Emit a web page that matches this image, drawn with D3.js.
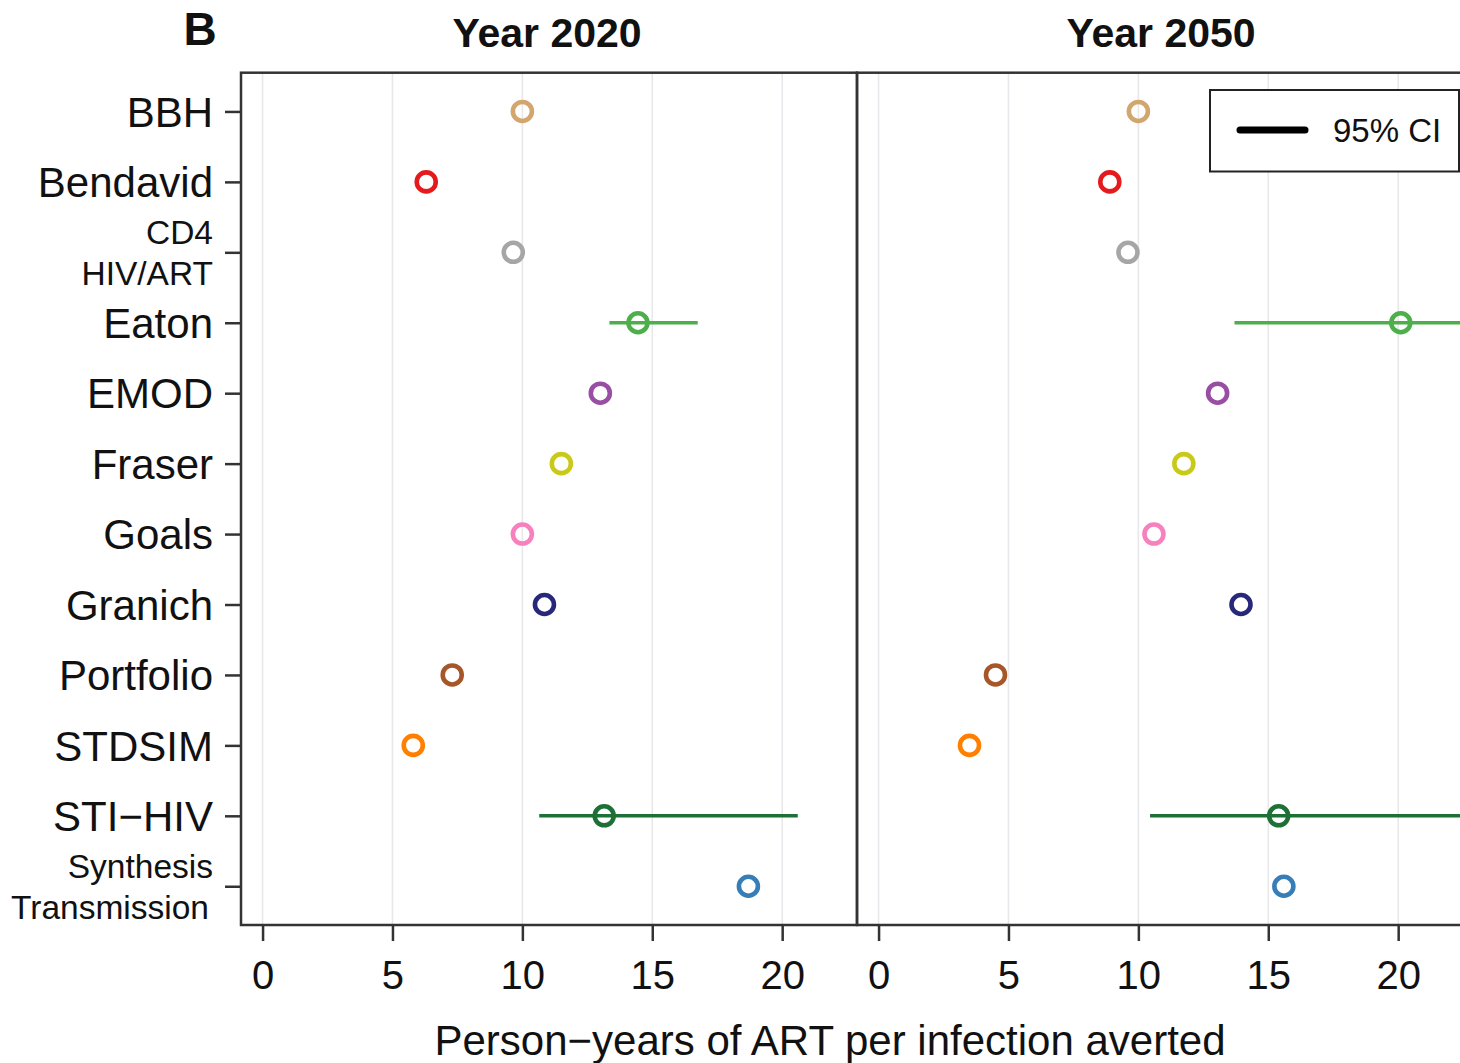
<!DOCTYPE html>
<html>
<head>
<meta charset="utf-8">
<script src="https://cdn.jsdelivr.net/npm/d3@7"></script>
<style>
  html, body { margin: 0; padding: 0; background: #fff; }
  svg { display: block; font-family: "Liberation Sans", Arial, Helvetica, sans-serif; }
</style>
</head>
<body>
<svg id="chart" width="1460" height="1063"></svg>
<script>
// Models (y categories); "\n" splits a label over two lines
const models = ["BBH", "Bendavid", "CD4\nHIV/ART", "Eaton", "EMOD", "Fraser", "Goals",
                "Granich", "Portfolio", "STDSIM", "STI\u2212HIV", "Synthesis\nTransmission"];
const modelColors = ["#d2a66c", "#e41a1c", "#a6a6a6", "#4daf4a", "#984ea3", "#c9c91a",
                     "#f781bf", "#27287a", "#a65628", "#ff7f00", "#1d7036", "#377eb8"];

// Person-years of ART per infection averted, point estimates
const est2020 = [10.0, 6.3, 9.65, 14.45, 13.0, 11.5, 10.0, 10.85, 7.3, 5.8, 13.15, 18.7];
const est2050 = [10.0, 8.9, 9.6, 20.1, 13.05, 11.75, 10.6, 13.95, 4.5, 3.5, 15.4, 15.6];
// 95% confidence intervals (only where reported)
const lo2020 = [null, null, null, 13.35, null, null, null, null, null, null, 10.65, null];
const hi2020 = [null, null, null, 16.75, null, null, null, null, null, null, 20.6, null];
const lo2050 = [null, null, null, 13.7, null, null, null, null, null, null, 10.45, null];
const hi2050 = [null, null, null, 25.0, null, null, null, null, null, null, 26.0, null];

const panelTitles = ["Year 2020", "Year 2050"];
const xTicks = [0, 5, 10, 15, 20];
const xTitle = "Person\u2212years of ART per infection averted";
const legendLabel = "95% CI";
const panelTag = "B";

const svg = d3.select("#chart");
const plotTop = 72.7, plotBottom = 925, panelW = 616, left0 = 241;
const xDomain = [-0.83, 22.88];
const frameColor = "#333";

const y = d3.scalePoint().domain(models).range([plotTop, plotBottom]).padding(0.55);

const panels = [
  { title: panelTitles[0], est: est2020, lo: lo2020, hi: hi2020, x0: left0 },
  { title: panelTitles[1], est: est2050, lo: lo2050, hi: hi2050, x0: left0 + panelW }
];

svg.append("defs").selectAll("clipPath").data(panels).join("clipPath")
  .attr("id", (d, i) => "clip" + i)
  .append("rect")
  .attr("x", d => d.x0).attr("y", plotTop)
  .attr("width", panelW).attr("height", plotBottom - plotTop);

panels.forEach((p, pi) => {
  const x = d3.scaleLinear().domain(xDomain).range([p.x0, p.x0 + panelW]);
  const g = svg.append("g");

  // vertical grid lines
  g.append("g").selectAll("line").data(xTicks).join("line")
    .attr("x1", d => x(d)).attr("x2", d => x(d))
    .attr("y1", plotTop).attr("y2", plotBottom)
    .attr("stroke", "#e8e8ec").attr("stroke-width", 1.6);

  // x axis
  const ax = g.append("g").attr("transform", `translate(0,${plotBottom})`)
    .call(d3.axisBottom(x).tickValues(xTicks).tickSize(16).tickPadding(20).tickFormat(d3.format("d")));
  ax.select(".domain").remove();
  ax.selectAll(".tick line").attr("stroke", frameColor).attr("stroke-width", 2.5);
  ax.selectAll(".tick text").attr("font-size", 40).attr("fill", "#111")
    .attr("font-family", "'Liberation Sans', Arial, sans-serif");

  // panel title
  g.append("text").attr("x", p.x0 + panelW / 2 - (pi === 1 ? 4 : 2)).attr("y", 47)
    .attr("text-anchor", "middle").attr("font-size", 41).attr("font-weight", "bold")
    .attr("fill", "#111").text(p.title);

  const body = g.append("g").attr("clip-path", `url(#clip${pi})`);

  // confidence interval segments
  const ciIdx = models.map((m, i) => i).filter(i => p.lo[i] != null);
  body.selectAll("line.ci").data(ciIdx).join("line")
    .attr("class", "ci")
    .attr("x1", i => x(p.lo[i])).attr("x2", i => x(p.hi[i]))
    .attr("y1", i => y(models[i])).attr("y2", i => y(models[i]))
    .attr("stroke", i => modelColors[i]).attr("stroke-width", 3.4);

  // point estimates as open circles
  body.selectAll("circle").data(models).join("circle")
    .attr("cx", (m, i) => x(p.est[i])).attr("cy", m => y(m))
    .attr("r", 9.5).attr("fill", "none")
    .attr("stroke", (m, i) => modelColors[i]).attr("stroke-width", 4.6);

  // panel frame
  g.append("rect").attr("x", p.x0).attr("y", plotTop)
    .attr("width", panelW).attr("height", plotBottom - plotTop)
    .attr("fill", "none").attr("stroke", frameColor).attr("stroke-width", 2.5);
});

// y axis with model labels
const yAx = svg.append("g").attr("transform", `translate(${left0},0)`)
  .call(d3.axisLeft(y).tickSize(16).tickFormat(""));
yAx.select(".domain").remove();
yAx.selectAll(".tick line").attr("stroke", frameColor).attr("stroke-width", 2.5);

const yLab = svg.append("g").attr("fill", "#111").attr("text-anchor", "end");
models.forEach(m => {
  const lines = m.split("\n");
  if (lines.length === 1) {
    yLab.append("text").attr("x", 213).attr("y", y(m)).attr("dy", "0.36em")
      .attr("font-size", 42).text(m);
  } else {
    lines.forEach((t, k) => {
      yLab.append("text").attr("x", k === 1 && m.startsWith("Synthesis") ? 209 : 213)
        .attr("y", y(m) + (k === 0 ? -20 : 21)).attr("dy", "0.36em")
        .attr("font-size", 33.5).text(t);
    });
  }
});

// x axis title
svg.append("text").attr("x", 830).attr("y", 1055).attr("text-anchor", "middle")
  .attr("font-size", 42).attr("fill", "#111").text(xTitle);

// panel tag
svg.append("text").attr("x", 200).attr("y", 45).attr("text-anchor", "middle")
  .attr("font-size", 46).attr("font-weight", "bold").attr("fill", "#111").text(panelTag);

// legend
const lg = svg.append("g");
lg.append("rect").attr("x", 1210).attr("y", 90).attr("width", 249).attr("height", 81.5)
  .attr("fill", "#fff").attr("stroke", "#222").attr("stroke-width", 2);
lg.append("line").attr("x1", 1240).attr("x2", 1305).attr("y1", 130).attr("y2", 130)
  .attr("stroke", "#000").attr("stroke-width", 7).attr("stroke-linecap", "round");
lg.append("text").attr("x", 1333).attr("y", 130).attr("dy", "0.36em")
  .attr("font-size", 33).attr("fill", "#111").text(legendLabel);
</script>
</body>
</html>
